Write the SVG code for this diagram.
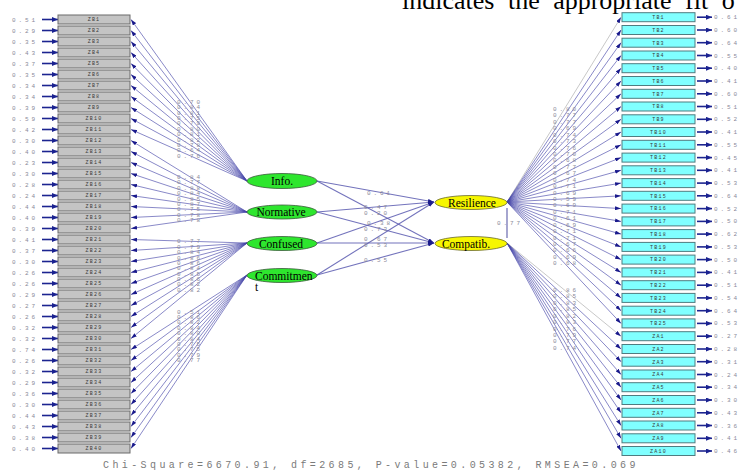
<svg xmlns="http://www.w3.org/2000/svg" width="738" height="471" viewBox="0 0 738 471">
<defs>
<marker id="ah" markerWidth="6" markerHeight="4" refX="6" refY="2" orient="auto" markerUnits="userSpaceOnUse"><path d="M0,0 L6,2 L0,4 z" fill="#1a1a8c"/></marker>
<marker id="ae" markerWidth="6" markerHeight="5" refX="6" refY="2.5" orient="auto" markerUnits="userSpaceOnUse"><path d="M0,0 L6,2.5 L0,5 z" fill="#1a2290"/></marker>
<style>
.bz{fill:#c4c4c4;stroke:#6a6a6a;stroke-width:1}
.bt{fill:#80ffff;stroke:#4f7c80;stroke-width:1}
.lb{font-family:"Liberation Mono",monospace;font-size:5px;letter-spacing:1.2px;fill:#3a3a3a;text-anchor:middle}
.v{font-family:"Liberation Mono",monospace;font-size:6px;letter-spacing:2.9px;fill:#8a8a9a}
.ld{stroke:#4646a8;stroke-width:0.8;stroke-opacity:0.8;marker-end:url(#ah);fill:none}
.lg{stroke:#c8c8c8;stroke-width:1;marker-end:url(#ah);fill:none}
.er{stroke:#1c2490;stroke-width:1.6;marker-end:url(#ae)}
.pa{stroke:#5a5ab0;stroke-width:1.1;stroke-opacity:0.85;marker-end:url(#ah)}
.eg{fill:#2ee62e;stroke:#3a5a3a;stroke-width:0.8}
.ey{fill:#f6f600;stroke:#6a6a30;stroke-width:0.8}
.nt{font-family:"Liberation Serif",serif;font-size:11.5px;fill:#000;text-anchor:middle}
</style>
</defs>
<rect width="738" height="471" fill="#fff"/>
<text x="402" y="9" font-family="Liberation Serif,serif" font-size="26" word-spacing="7" fill="#000">indicates the appropriate fit o</text>

<g id="connectors">
<!-- Info -->
<line class="ld" x1="247" y1="181" x2="131" y2="19.5"/>
<line class="ld" x1="247" y1="181" x2="131" y2="30.5"/>
<line class="ld" x1="247" y1="181" x2="131" y2="41.5"/>
<line class="ld" x1="247" y1="181" x2="131" y2="52.5"/>
<line class="ld" x1="247" y1="181" x2="131" y2="63.5"/>
<line class="ld" x1="247" y1="181" x2="131" y2="74.5"/>
<line class="ld" x1="247" y1="181" x2="131" y2="85.5"/>
<line class="ld" x1="247" y1="181" x2="131" y2="96.5"/>
<line class="ld" x1="247" y1="181" x2="131" y2="107.5"/>
<line class="ld" x1="247" y1="181" x2="131" y2="118.5"/>
<line class="ld" x1="247" y1="181" x2="131" y2="129.5"/>
<!-- Normative -->
<line class="ld" x1="247" y1="212" x2="131" y2="140.5"/>
<line class="ld" x1="247" y1="212" x2="131" y2="151.5"/>
<line class="ld" x1="247" y1="212" x2="131" y2="162.5"/>
<line class="ld" x1="247" y1="212" x2="131" y2="173.5"/>
<line class="ld" x1="247" y1="212" x2="131" y2="184.5"/>
<line class="ld" x1="247" y1="212" x2="131" y2="195.5"/>
<line class="ld" x1="247" y1="212" x2="131" y2="206.5"/>
<line class="ld" x1="247" y1="212" x2="131" y2="217.5"/>
<line class="ld" x1="247" y1="212" x2="131" y2="228.5"/>
<!-- Confused -->
<line class="ld" x1="247" y1="243" x2="131" y2="239.5"/>
<line class="ld" x1="247" y1="243" x2="131" y2="250.5"/>
<line class="ld" x1="247" y1="243" x2="131" y2="261.5"/>
<line class="ld" x1="247" y1="243" x2="131" y2="272.5"/>
<line class="ld" x1="247" y1="243" x2="131" y2="283.5"/>
<line class="ld" x1="247" y1="243" x2="131" y2="294.5"/>
<line class="ld" x1="247" y1="243" x2="131" y2="305.5"/>
<line class="ld" x1="247" y1="243" x2="131" y2="316.5"/>
<line class="ld" x1="247" y1="243" x2="131" y2="327.5"/>
<line class="ld" x1="247" y1="243" x2="131" y2="338.5"/>
<!-- Commitment -->
<line class="ld" x1="247" y1="275" x2="131" y2="349.5"/>
<line class="ld" x1="247" y1="275" x2="131" y2="360.5"/>
<line class="ld" x1="247" y1="275" x2="131" y2="371.5"/>
<line class="ld" x1="247" y1="275" x2="131" y2="382.5"/>
<line class="ld" x1="247" y1="275" x2="131" y2="393.5"/>
<line class="ld" x1="247" y1="275" x2="131" y2="404.5"/>
<line class="ld" x1="247" y1="275" x2="131" y2="415.5"/>
<line class="ld" x1="247" y1="275" x2="131" y2="426.5"/>
<line class="ld" x1="247" y1="275" x2="131" y2="437.5"/>
<line class="ld" x1="247" y1="275" x2="131" y2="448.5"/>
<!-- structural paths -->
<line class="pa" x1="317" y1="181" x2="434" y2="202"/>
<line class="pa" x1="317" y1="181" x2="434" y2="243"/>
<line class="pa" x1="317" y1="212" x2="434" y2="202"/>
<line class="pa" x1="317" y1="212" x2="434" y2="243"/>
<line class="pa" x1="317" y1="243" x2="434" y2="202"/>
<line class="pa" x1="317" y1="243" x2="434" y2="243"/>
<line class="pa" x1="317" y1="275" x2="434" y2="202"/>
<line class="pa" x1="317" y1="275" x2="434" y2="243"/>
<line x1="507" y1="208" x2="507" y2="238" stroke="#6a6ab0" stroke-width="1.2"/>
<!-- Resilience -->
<line class="lg" x1="507" y1="202" x2="621" y2="17.2"/>
<line class="ld" x1="507" y1="202" x2="621" y2="30"/>
<line class="ld" x1="507" y1="202" x2="621" y2="42.7"/>
<line class="ld" x1="507" y1="202" x2="621" y2="55.5"/>
<line class="ld" x1="507" y1="202" x2="621" y2="68.2"/>
<line class="ld" x1="507" y1="202" x2="621" y2="81"/>
<line class="ld" x1="507" y1="202" x2="621" y2="93.8"/>
<line class="ld" x1="507" y1="202" x2="621" y2="106.5"/>
<line class="ld" x1="507" y1="202" x2="621" y2="119.3"/>
<line class="ld" x1="507" y1="202" x2="621" y2="132"/>
<line class="ld" x1="507" y1="202" x2="621" y2="144.8"/>
<line class="ld" x1="507" y1="202" x2="621" y2="157.6"/>
<line class="ld" x1="507" y1="202" x2="621" y2="170.3"/>
<line class="ld" x1="507" y1="202" x2="621" y2="183.1"/>
<line class="ld" x1="507" y1="202" x2="621" y2="195.8"/>
<line class="ld" x1="507" y1="202" x2="621" y2="208.6"/>
<line class="ld" x1="507" y1="202" x2="621" y2="221.4"/>
<line class="ld" x1="507" y1="202" x2="621" y2="234.1"/>
<line class="ld" x1="507" y1="202" x2="621" y2="246.9"/>
<line class="ld" x1="507" y1="202" x2="621" y2="259.6"/>
<line class="ld" x1="507" y1="202" x2="621" y2="272.4"/>
<line class="ld" x1="507" y1="202" x2="621" y2="285.2"/>
<line class="ld" x1="507" y1="202" x2="621" y2="297.9"/>
<line class="ld" x1="507" y1="202" x2="621" y2="310.7"/>
<line class="ld" x1="507" y1="202" x2="621" y2="323.4"/>
<!-- Compatib -->
<line class="lg" x1="507" y1="243" x2="621" y2="336.2"/>
<line class="ld" x1="507" y1="243" x2="621" y2="349"/>
<line class="ld" x1="507" y1="243" x2="621" y2="361.7"/>
<line class="ld" x1="507" y1="243" x2="621" y2="374.5"/>
<line class="ld" x1="507" y1="243" x2="621" y2="387.2"/>
<line class="ld" x1="507" y1="243" x2="621" y2="400"/>
<line class="ld" x1="507" y1="243" x2="621" y2="412.8"/>
<line class="ld" x1="507" y1="243" x2="621" y2="425.5"/>
<line class="ld" x1="507" y1="243" x2="621" y2="438.3"/>
<line class="ld" x1="507" y1="243" x2="621" y2="451"/>
<!-- error arrows left -->
<line class="er" x1="42" y1="19.5" x2="58" y2="19.5"/>
<line class="er" x1="42" y1="30.5" x2="58" y2="30.5"/>
<line class="er" x1="42" y1="41.5" x2="58" y2="41.5"/>
<line class="er" x1="42" y1="52.5" x2="58" y2="52.5"/>
<line class="er" x1="42" y1="63.5" x2="58" y2="63.5"/>
<line class="er" x1="42" y1="74.5" x2="58" y2="74.5"/>
<line class="er" x1="42" y1="85.5" x2="58" y2="85.5"/>
<line class="er" x1="42" y1="96.5" x2="58" y2="96.5"/>
<line class="er" x1="42" y1="107.5" x2="58" y2="107.5"/>
<line class="er" x1="42" y1="118.5" x2="58" y2="118.5"/>
<line class="er" x1="42" y1="129.5" x2="58" y2="129.5"/>
<line class="er" x1="42" y1="140.5" x2="58" y2="140.5"/>
<line class="er" x1="42" y1="151.5" x2="58" y2="151.5"/>
<line class="er" x1="42" y1="162.5" x2="58" y2="162.5"/>
<line class="er" x1="42" y1="173.5" x2="58" y2="173.5"/>
<line class="er" x1="42" y1="184.5" x2="58" y2="184.5"/>
<line class="er" x1="42" y1="195.5" x2="58" y2="195.5"/>
<line class="er" x1="42" y1="206.5" x2="58" y2="206.5"/>
<line class="er" x1="42" y1="217.5" x2="58" y2="217.5"/>
<line class="er" x1="42" y1="228.5" x2="58" y2="228.5"/>
<line class="er" x1="42" y1="239.5" x2="58" y2="239.5"/>
<line class="er" x1="42" y1="250.5" x2="58" y2="250.5"/>
<line class="er" x1="42" y1="261.5" x2="58" y2="261.5"/>
<line class="er" x1="42" y1="272.5" x2="58" y2="272.5"/>
<line class="er" x1="42" y1="283.5" x2="58" y2="283.5"/>
<line class="er" x1="42" y1="294.5" x2="58" y2="294.5"/>
<line class="er" x1="42" y1="305.5" x2="58" y2="305.5"/>
<line class="er" x1="42" y1="316.5" x2="58" y2="316.5"/>
<line class="er" x1="42" y1="327.5" x2="58" y2="327.5"/>
<line class="er" x1="42" y1="338.5" x2="58" y2="338.5"/>
<line class="er" x1="42" y1="349.5" x2="58" y2="349.5"/>
<line class="er" x1="42" y1="360.5" x2="58" y2="360.5"/>
<line class="er" x1="42" y1="371.5" x2="58" y2="371.5"/>
<line class="er" x1="42" y1="382.5" x2="58" y2="382.5"/>
<line class="er" x1="42" y1="393.5" x2="58" y2="393.5"/>
<line class="er" x1="42" y1="404.5" x2="58" y2="404.5"/>
<line class="er" x1="42" y1="415.5" x2="58" y2="415.5"/>
<line class="er" x1="42" y1="426.5" x2="58" y2="426.5"/>
<line class="er" x1="42" y1="437.5" x2="58" y2="437.5"/>
<line class="er" x1="42" y1="448.5" x2="58" y2="448.5"/>
<!-- error arrows right -->
<line class="er" x1="697" y1="17.2" x2="712" y2="17.2"/>
<line class="er" x1="697" y1="30" x2="712" y2="30"/>
<line class="er" x1="697" y1="42.7" x2="712" y2="42.7"/>
<line class="er" x1="697" y1="55.5" x2="712" y2="55.5"/>
<line class="er" x1="697" y1="68.2" x2="712" y2="68.2"/>
<line class="er" x1="697" y1="81" x2="712" y2="81"/>
<line class="er" x1="697" y1="93.8" x2="712" y2="93.8"/>
<line class="er" x1="697" y1="106.5" x2="712" y2="106.5"/>
<line class="er" x1="697" y1="119.3" x2="712" y2="119.3"/>
<line class="er" x1="697" y1="132" x2="712" y2="132"/>
<line class="er" x1="697" y1="144.8" x2="712" y2="144.8"/>
<line class="er" x1="697" y1="157.6" x2="712" y2="157.6"/>
<line class="er" x1="697" y1="170.3" x2="712" y2="170.3"/>
<line class="er" x1="697" y1="183.1" x2="712" y2="183.1"/>
<line class="er" x1="697" y1="195.8" x2="712" y2="195.8"/>
<line class="er" x1="697" y1="208.6" x2="712" y2="208.6"/>
<line class="er" x1="697" y1="221.4" x2="712" y2="221.4"/>
<line class="er" x1="697" y1="234.1" x2="712" y2="234.1"/>
<line class="er" x1="697" y1="246.9" x2="712" y2="246.9"/>
<line class="er" x1="697" y1="259.6" x2="712" y2="259.6"/>
<line class="er" x1="697" y1="272.4" x2="712" y2="272.4"/>
<line class="er" x1="697" y1="285.2" x2="712" y2="285.2"/>
<line class="er" x1="697" y1="297.9" x2="712" y2="297.9"/>
<line class="er" x1="697" y1="310.7" x2="712" y2="310.7"/>
<line class="er" x1="697" y1="323.4" x2="712" y2="323.4"/>
<line class="er" x1="697" y1="336.2" x2="712" y2="336.2"/>
<line class="er" x1="697" y1="349" x2="712" y2="349"/>
<line class="er" x1="697" y1="361.7" x2="712" y2="361.7"/>
<line class="er" x1="697" y1="374.5" x2="712" y2="374.5"/>
<line class="er" x1="697" y1="387.2" x2="712" y2="387.2"/>
<line class="er" x1="697" y1="400" x2="712" y2="400"/>
<line class="er" x1="697" y1="412.8" x2="712" y2="412.8"/>
<line class="er" x1="697" y1="425.5" x2="712" y2="425.5"/>
<line class="er" x1="697" y1="438.3" x2="712" y2="438.3"/>
<line class="er" x1="697" y1="451" x2="712" y2="451"/>
</g>

<g id="connector-labels" class="v">
<text x="12" y="21.5">0.51</text><text x="12" y="32.5">0.29</text><text x="12" y="43.5">0.35</text><text x="12" y="54.5">0.43</text><text x="12" y="65.5">0.37</text><text x="12" y="76.5">0.35</text><text x="12" y="87.5">0.34</text><text x="12" y="98.5">0.34</text><text x="12" y="109.5">0.39</text><text x="12" y="120.5">0.59</text>
<text x="12" y="131.5">0.42</text><text x="12" y="142.5">0.30</text><text x="12" y="153.5">0.40</text><text x="12" y="164.5">0.23</text><text x="12" y="175.5">0.30</text><text x="12" y="186.5">0.28</text><text x="12" y="197.5">0.24</text><text x="12" y="208.5">0.44</text><text x="12" y="219.5">0.40</text><text x="12" y="230.5">0.39</text>
<text x="12" y="241.5">0.41</text><text x="12" y="252.5">0.37</text><text x="12" y="263.5">0.30</text><text x="12" y="274.5">0.26</text><text x="12" y="285.5">0.26</text><text x="12" y="296.5">0.29</text><text x="12" y="307.5">0.27</text><text x="12" y="318.5">0.26</text><text x="12" y="329.5">0.32</text><text x="12" y="340.5">0.32</text>
<text x="12" y="351.5">0.74</text><text x="12" y="362.5">0.26</text><text x="12" y="373.5">0.32</text><text x="12" y="384.5">0.29</text><text x="12" y="395.5">0.36</text><text x="12" y="406.5">0.30</text><text x="12" y="417.5">0.44</text><text x="12" y="428.5">0.43</text><text x="12" y="439.5">0.38</text><text x="12" y="450.5">0.40</text>

<text x="714" y="19.2">0.61</text><text x="714" y="32">0.60</text><text x="714" y="44.7">0.64</text><text x="714" y="57.5">0.55</text><text x="714" y="70.2">0.40</text><text x="714" y="83">0.41</text><text x="714" y="95.8">0.60</text><text x="714" y="108.5">0.51</text><text x="714" y="121.3">0.52</text><text x="714" y="134">0.41</text>
<text x="714" y="146.8">0.55</text><text x="714" y="159.6">0.45</text><text x="714" y="172.3">0.41</text><text x="714" y="185.1">0.53</text><text x="714" y="197.8">0.64</text><text x="714" y="210.6">0.52</text><text x="714" y="223.4">0.50</text><text x="714" y="236.1">0.62</text><text x="714" y="248.9">0.53</text><text x="714" y="261.6">0.50</text>
<text x="714" y="274.4">0.41</text><text x="714" y="287.2">0.51</text><text x="714" y="299.9">0.54</text><text x="714" y="312.7">0.64</text><text x="714" y="325.4">0.53</text><text x="714" y="338.2">0.27</text><text x="714" y="351">0.28</text><text x="714" y="363.7">0.31</text><text x="714" y="376.5">0.24</text><text x="714" y="389.2">0.34</text>
<text x="714" y="402">0.30</text><text x="714" y="414.8">0.43</text><text x="714" y="427.5">0.36</text><text x="714" y="440.3">0.41</text><text x="714" y="453">0.46</text>

<text x="177" y="103.9">0.70</text><text x="177" y="109.3">0.84</text><text x="177" y="114.6">0.81</text><text x="177" y="120">0.75</text><text x="177" y="125.4">0.79</text><text x="177" y="130.8">0.80</text><text x="177" y="136.2">0.81</text><text x="177" y="141.6">0.82</text><text x="177" y="147">0.78</text><text x="177" y="152.4">0.64</text><text x="177" y="157.8">0.76</text>
<text x="177" y="178.9">0.84</text><text x="177" y="184.4">0.77</text><text x="177" y="189.7">0.88</text><text x="177" y="195.1">0.84</text><text x="177" y="200.5">0.85</text><text x="177" y="205.9">0.87</text><text x="177" y="211.3">0.75</text><text x="177" y="216.7">0.78</text><text x="177" y="222.1">0.78</text>
<text x="177" y="243.3">0.77</text><text x="177" y="248.7">0.79</text><text x="177" y="254.1">0.84</text><text x="177" y="259.5">0.86</text><text x="177" y="264.9">0.86</text><text x="177" y="270.2">0.84</text><text x="177" y="275.6">0.85</text><text x="177" y="281">0.86</text><text x="177" y="286.4">0.82</text><text x="177" y="291.8">0.82</text>
<text x="177" y="313.5">0.51</text><text x="177" y="318.9">0.86</text><text x="177" y="324.3">0.82</text><text x="177" y="329.7">0.84</text><text x="177" y="335.1">0.80</text><text x="177" y="340.5">0.84</text><text x="177" y="345.8">0.75</text><text x="177" y="351.2">0.75</text><text x="177" y="356.6">0.79</text><text x="177" y="362">0.77</text>

<text x="553" y="110.9">0.80</text><text x="553" y="117.3">0.77</text><text x="553" y="123.7">0.77</text><text x="553" y="130.2">0.69</text><text x="553" y="136.6">0.74</text><text x="553" y="143">0.73</text><text x="553" y="149.5">0.76</text><text x="553" y="155.9">0.70</text><text x="553" y="162.3">0.68</text><text x="553" y="168.7">0.77</text>
<text x="553" y="175.2">0.67</text><text x="553" y="181.6">0.74</text><text x="553" y="188">0.71</text><text x="553" y="194.5">0.69</text><text x="553" y="200.9">0.59</text><text x="553" y="207.3">0.69</text><text x="553" y="213.8">0.71</text><text x="553" y="220.2">0.61</text><text x="553" y="226.6">0.69</text><text x="553" y="233">0.71</text>
<text x="553" y="239.5">0.71</text><text x="553" y="245.9">0.67</text><text x="553" y="252.3">0.66</text><text x="553" y="258.8">0.69</text><text x="553" y="265.2">0.68</text>
<text x="553" y="292">0.86</text><text x="553" y="298.4">0.85</text><text x="553" y="304.8">0.83</text><text x="553" y="311.3">0.85</text><text x="553" y="317.7">0.82</text><text x="553" y="324.1">0.83</text><text x="553" y="330.6">0.76</text><text x="553" y="337">0.79</text><text x="553" y="343.4">0.77</text><text x="553" y="349.8">0.74</text>

<text x="367" y="195">0.61</text><text x="364" y="209">0.47</text><text x="364" y="215">0.20</text><text x="367" y="225">0.38</text><text x="364" y="231">0.73</text><text x="364" y="241">0.67</text><text x="364" y="246.5">0.53</text><text x="364" y="262">0.55</text>
<text x="497" y="225">0.77</text>
</g>

<g id="ZB1"><rect class="bz" x="58" y="15" width="72" height="9"/><text class="lb" x="94" y="21.3">ZB1</text></g>
<g id="ZB2"><rect class="bz" x="58" y="26" width="72" height="9"/><text class="lb" x="94" y="32.3">ZB2</text></g>
<g id="ZB3"><rect class="bz" x="58" y="37" width="72" height="9"/><text class="lb" x="94" y="43.3">ZB3</text></g>
<g id="ZB4"><rect class="bz" x="58" y="48" width="72" height="9"/><text class="lb" x="94" y="54.3">ZB4</text></g>
<g id="ZB5"><rect class="bz" x="58" y="59" width="72" height="9"/><text class="lb" x="94" y="65.3">ZB5</text></g>
<g id="ZB6"><rect class="bz" x="58" y="70" width="72" height="9"/><text class="lb" x="94" y="76.3">ZB6</text></g>
<g id="ZB7"><rect class="bz" x="58" y="81" width="72" height="9"/><text class="lb" x="94" y="87.3">ZB7</text></g>
<g id="ZB8"><rect class="bz" x="58" y="92" width="72" height="9"/><text class="lb" x="94" y="98.3">ZB8</text></g>
<g id="ZB9"><rect class="bz" x="58" y="103" width="72" height="9"/><text class="lb" x="94" y="109.3">ZB9</text></g>
<g id="ZB10"><rect class="bz" x="58" y="114" width="72" height="9"/><text class="lb" x="94" y="120.3">ZB10</text></g>
<g id="ZB11"><rect class="bz" x="58" y="125" width="72" height="9"/><text class="lb" x="94" y="131.3">ZB11</text></g>
<g id="ZB12"><rect class="bz" x="58" y="136" width="72" height="9"/><text class="lb" x="94" y="142.3">ZB12</text></g>
<g id="ZB13"><rect class="bz" x="58" y="147" width="72" height="9"/><text class="lb" x="94" y="153.3">ZB13</text></g>
<g id="ZB14"><rect class="bz" x="58" y="158" width="72" height="9"/><text class="lb" x="94" y="164.3">ZB14</text></g>
<g id="ZB15"><rect class="bz" x="58" y="169" width="72" height="9"/><text class="lb" x="94" y="175.3">ZB15</text></g>
<g id="ZB16"><rect class="bz" x="58" y="180" width="72" height="9"/><text class="lb" x="94" y="186.3">ZB16</text></g>
<g id="ZB17"><rect class="bz" x="58" y="191" width="72" height="9"/><text class="lb" x="94" y="197.3">ZB17</text></g>
<g id="ZB18"><rect class="bz" x="58" y="202" width="72" height="9"/><text class="lb" x="94" y="208.3">ZB18</text></g>
<g id="ZB19"><rect class="bz" x="58" y="213" width="72" height="9"/><text class="lb" x="94" y="219.3">ZB19</text></g>
<g id="ZB20"><rect class="bz" x="58" y="224" width="72" height="9"/><text class="lb" x="94" y="230.3">ZB20</text></g>
<g id="ZB21"><rect class="bz" x="58" y="235" width="72" height="9"/><text class="lb" x="94" y="241.3">ZB21</text></g>
<g id="ZB22"><rect class="bz" x="58" y="246" width="72" height="9"/><text class="lb" x="94" y="252.3">ZB22</text></g>
<g id="ZB23"><rect class="bz" x="58" y="257" width="72" height="9"/><text class="lb" x="94" y="263.3">ZB23</text></g>
<g id="ZB24"><rect class="bz" x="58" y="268" width="72" height="9"/><text class="lb" x="94" y="274.3">ZB24</text></g>
<g id="ZB25"><rect class="bz" x="58" y="279" width="72" height="9"/><text class="lb" x="94" y="285.3">ZB25</text></g>
<g id="ZB26"><rect class="bz" x="58" y="290" width="72" height="9"/><text class="lb" x="94" y="296.3">ZB26</text></g>
<g id="ZB27"><rect class="bz" x="58" y="301" width="72" height="9"/><text class="lb" x="94" y="307.3">ZB27</text></g>
<g id="ZB28"><rect class="bz" x="58" y="312" width="72" height="9"/><text class="lb" x="94" y="318.3">ZB28</text></g>
<g id="ZB29"><rect class="bz" x="58" y="323" width="72" height="9"/><text class="lb" x="94" y="329.3">ZB29</text></g>
<g id="ZB30"><rect class="bz" x="58" y="334" width="72" height="9"/><text class="lb" x="94" y="340.3">ZB30</text></g>
<g id="ZB31"><rect class="bz" x="58" y="345" width="72" height="9"/><text class="lb" x="94" y="351.3">ZB31</text></g>
<g id="ZB32"><rect class="bz" x="58" y="356" width="72" height="9"/><text class="lb" x="94" y="362.3">ZB32</text></g>
<g id="ZB33"><rect class="bz" x="58" y="367" width="72" height="9"/><text class="lb" x="94" y="373.3">ZB33</text></g>
<g id="ZB34"><rect class="bz" x="58" y="378" width="72" height="9"/><text class="lb" x="94" y="384.3">ZB34</text></g>
<g id="ZB35"><rect class="bz" x="58" y="389" width="72" height="9"/><text class="lb" x="94" y="395.3">ZB35</text></g>
<g id="ZB36"><rect class="bz" x="58" y="400" width="72" height="9"/><text class="lb" x="94" y="406.3">ZB36</text></g>
<g id="ZB37"><rect class="bz" x="58" y="411" width="72" height="9"/><text class="lb" x="94" y="417.3">ZB37</text></g>
<g id="ZB38"><rect class="bz" x="58" y="422" width="72" height="9"/><text class="lb" x="94" y="428.3">ZB38</text></g>
<g id="ZB39"><rect class="bz" x="58" y="433" width="72" height="9"/><text class="lb" x="94" y="439.3">ZB39</text></g>
<g id="ZB40"><rect class="bz" x="58" y="444" width="72" height="9"/><text class="lb" x="94" y="450.3">ZB40</text></g>

<g id="TB1"><rect class="bt" x="622" y="12.7" width="73" height="9"/><text class="lb" x="658.5" y="19">TB1</text></g>
<g id="TB2"><rect class="bt" x="622" y="25.5" width="73" height="9"/><text class="lb" x="658.5" y="31.8">TB2</text></g>
<g id="TB3"><rect class="bt" x="622" y="38.2" width="73" height="9"/><text class="lb" x="658.5" y="44.5">TB3</text></g>
<g id="TB4"><rect class="bt" x="622" y="51" width="73" height="9"/><text class="lb" x="658.5" y="57.3">TB4</text></g>
<g id="TB5"><rect class="bt" x="622" y="63.7" width="73" height="9"/><text class="lb" x="658.5" y="70">TB5</text></g>
<g id="TB6"><rect class="bt" x="622" y="76.5" width="73" height="9"/><text class="lb" x="658.5" y="82.8">TB6</text></g>
<g id="TB7"><rect class="bt" x="622" y="89.3" width="73" height="9"/><text class="lb" x="658.5" y="95.6">TB7</text></g>
<g id="TB8"><rect class="bt" x="622" y="102" width="73" height="9"/><text class="lb" x="658.5" y="108.3">TB8</text></g>
<g id="TB9"><rect class="bt" x="622" y="114.8" width="73" height="9"/><text class="lb" x="658.5" y="121.1">TB9</text></g>
<g id="TB10"><rect class="bt" x="622" y="127.5" width="73" height="9"/><text class="lb" x="658.5" y="133.8">TB10</text></g>
<g id="TB11"><rect class="bt" x="622" y="140.3" width="73" height="9"/><text class="lb" x="658.5" y="146.6">TB11</text></g>
<g id="TB12"><rect class="bt" x="622" y="153.1" width="73" height="9"/><text class="lb" x="658.5" y="159.4">TB12</text></g>
<g id="TB13"><rect class="bt" x="622" y="165.8" width="73" height="9"/><text class="lb" x="658.5" y="172.1">TB13</text></g>
<g id="TB14"><rect class="bt" x="622" y="178.6" width="73" height="9"/><text class="lb" x="658.5" y="184.9">TB14</text></g>
<g id="TB15"><rect class="bt" x="622" y="191.3" width="73" height="9"/><text class="lb" x="658.5" y="197.6">TB15</text></g>
<g id="TB16"><rect class="bt" x="622" y="204.1" width="73" height="9"/><text class="lb" x="658.5" y="210.4">TB16</text></g>
<g id="TB17"><rect class="bt" x="622" y="216.9" width="73" height="9"/><text class="lb" x="658.5" y="223.2">TB17</text></g>
<g id="TB18"><rect class="bt" x="622" y="229.6" width="73" height="9"/><text class="lb" x="658.5" y="235.9">TB18</text></g>
<g id="TB19"><rect class="bt" x="622" y="242.4" width="73" height="9"/><text class="lb" x="658.5" y="248.7">TB19</text></g>
<g id="TB20"><rect class="bt" x="622" y="255.1" width="73" height="9"/><text class="lb" x="658.5" y="261.4">TB20</text></g>
<g id="TB21"><rect class="bt" x="622" y="267.9" width="73" height="9"/><text class="lb" x="658.5" y="274.2">TB21</text></g>
<g id="TB22"><rect class="bt" x="622" y="280.7" width="73" height="9"/><text class="lb" x="658.5" y="287">TB22</text></g>
<g id="TB23"><rect class="bt" x="622" y="293.4" width="73" height="9"/><text class="lb" x="658.5" y="299.7">TB23</text></g>
<g id="TB24"><rect class="bt" x="622" y="306.2" width="73" height="9"/><text class="lb" x="658.5" y="312.5">TB24</text></g>
<g id="TB25"><rect class="bt" x="622" y="318.9" width="73" height="9"/><text class="lb" x="658.5" y="325.2">TB25</text></g>
<g id="ZA1"><rect class="bt" x="622" y="331.7" width="73" height="9"/><text class="lb" x="658.5" y="338">ZA1</text></g>
<g id="ZA2"><rect class="bt" x="622" y="344.5" width="73" height="9"/><text class="lb" x="658.5" y="350.8">ZA2</text></g>
<g id="ZA3"><rect class="bt" x="622" y="357.2" width="73" height="9"/><text class="lb" x="658.5" y="363.5">ZA3</text></g>
<g id="ZA4"><rect class="bt" x="622" y="370" width="73" height="9"/><text class="lb" x="658.5" y="376.3">ZA4</text></g>
<g id="ZA5"><rect class="bt" x="622" y="382.7" width="73" height="9"/><text class="lb" x="658.5" y="389">ZA5</text></g>
<g id="ZA6"><rect class="bt" x="622" y="395.5" width="73" height="9"/><text class="lb" x="658.5" y="401.8">ZA6</text></g>
<g id="ZA7"><rect class="bt" x="622" y="408.3" width="73" height="9"/><text class="lb" x="658.5" y="414.6">ZA7</text></g>
<g id="ZA8"><rect class="bt" x="622" y="421" width="73" height="9"/><text class="lb" x="658.5" y="427.3">ZA8</text></g>
<g id="ZA9"><rect class="bt" x="622" y="433.8" width="73" height="9"/><text class="lb" x="658.5" y="440.1">ZA9</text></g>
<g id="ZA10"><rect class="bt" x="622" y="446.5" width="73" height="9"/><text class="lb" x="658.5" y="452.8">ZA10</text></g>

<g id="Info"><ellipse class="eg" cx="282" cy="181" rx="35" ry="7.5"/><text class="nt" x="282" y="185">Info.</text></g>
<g id="Normative"><ellipse class="eg" cx="282" cy="212" rx="35" ry="7"/><text class="nt" x="281" y="216">Normative</text></g>
<g id="Confused"><ellipse class="eg" cx="282" cy="243.5" rx="35" ry="7"/><text class="nt" x="281" y="247.5">Confused</text></g>
<g id="Commitment"><ellipse class="eg" cx="282" cy="275.5" rx="35" ry="7"/><text x="255" y="279.5" font-family="Liberation Serif,serif" font-size="11.5" fill="#000">Commitmen</text><text x="255" y="291" font-family="Liberation Serif,serif" font-size="11.5" fill="#000">t</text></g>
<g id="Resilience"><ellipse class="ey" cx="471" cy="202.5" rx="36" ry="7"/><text class="nt" x="472" y="206.5">Resilience</text></g>
<g id="Compatib"><ellipse class="ey" cx="471" cy="243.5" rx="36" ry="7"/><text class="nt" x="466" y="247.5">Compatib.</text></g>

<text x="103" y="468" font-family="Liberation Mono,monospace" font-size="10" letter-spacing="3.4" fill="#7a7a7a">Chi-Square=6670.91, df=2685, P-value=0.05382, RMSEA=0.069</text>
</svg>
